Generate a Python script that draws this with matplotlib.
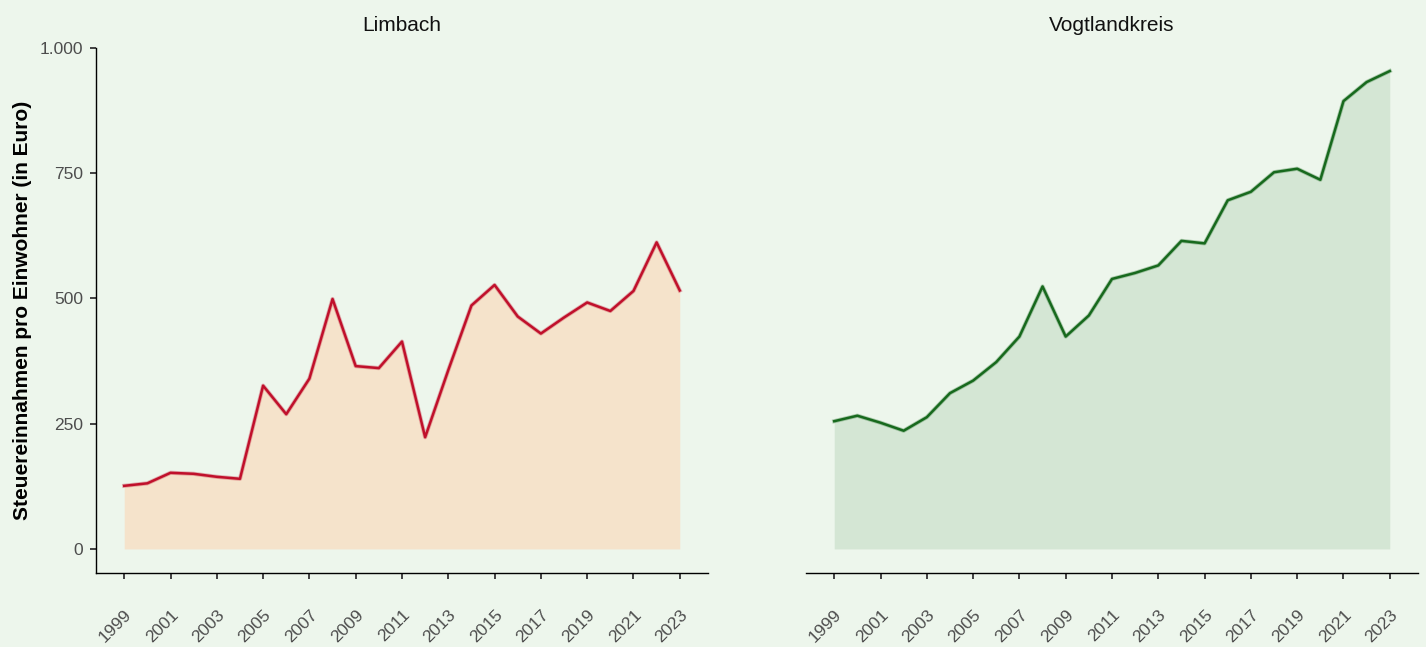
import numpy as np
import matplotlib.pyplot as plt
from matplotlib.ticker import FuncFormatter

plt.rcParams['font.family'] = ['Liberation Sans', 'DejaVu Sans']

years = list(range(1999, 2024))

limbach = [126, 131, 152, 150, 144, 140, 326, 269, 340, 499, 365, 361, 414,
           223, 357, 486, 527, 464, 430, 462, 492, 475, 515, 612, 516]

vogtland = [255, 266, 252, 236, 263, 311, 336, 373, 424, 524, 424, 466, 539,
            551, 566, 615, 610, 696, 713, 752, 759, 737, 894, 932, 954]

titles = ["Limbach", "Vogtlandkreis"]
line_colors = ["#C0102B", "#17691D"]
fill_colors = ["#F5E3CB", "#D4E6D4"]
bg = "#EDF6EC"

fig = plt.figure(figsize=(14.26, 6.47), dpi=100)
fig.patch.set_facecolor(bg)

ax1 = fig.add_axes([0.0673, 0.1144, 0.4292, 0.8114])
ax2 = fig.add_axes([0.5652, 0.1144, 0.4292, 0.8114])

thousands = FuncFormatter(lambda v, p: f"{int(v):,}".replace(",", "."))

for ax, vals, title, lc, fc in zip([ax1, ax2], [limbach, vogtland], titles,
                                   line_colors, fill_colors):
    ax.set_facecolor(bg)
    ax.fill_between(years, 0, vals, color=fc, lw=0)
    # soft halo under the line, like the reference
    ax.plot(years, vals, color=lc, lw=3.0, alpha=0.3)
    ax.plot(years, vals, color=lc, lw=1.8)
    ax.set_xlim(1997.78, 2024.22)
    ax.set_ylim(-48, 1000)
    ax.set_xticks(years[::2])
    ax.set_xticklabels([str(y) for y in years[::2]], rotation=45,
                       ha='right', va='top', rotation_mode='anchor')
    ax.set_yticks([0, 250, 500, 750, 1000])
    ax.yaxis.set_major_formatter(thousands)
    ax.tick_params(axis='both', colors='#333333', labelcolor='#4D4D4D',
                   labelsize=12.5, length=4.5, width=1.3, direction='out')
    ax.tick_params(axis='y', pad=4.5)
    ax.tick_params(axis='x', pad=20)
    for s in ['top', 'right']:
        ax.spines[s].set_visible(False)
    ax.spines['bottom'].set_linewidth(1.0)
    ax.spines['left'].set_linewidth(1.0)
    ax.set_title(title, fontsize=15, color='#111111', pad=12)

ax2.spines['left'].set_visible(False)
ax2.tick_params(axis='y', left=False, labelleft=False)

ax1.set_ylabel("Steuereinnahmen pro Einwohner (in Euro)", fontsize=15,
               fontweight='bold', labelpad=6)

fig.savefig("out.png", dpi=100, facecolor=bg)
